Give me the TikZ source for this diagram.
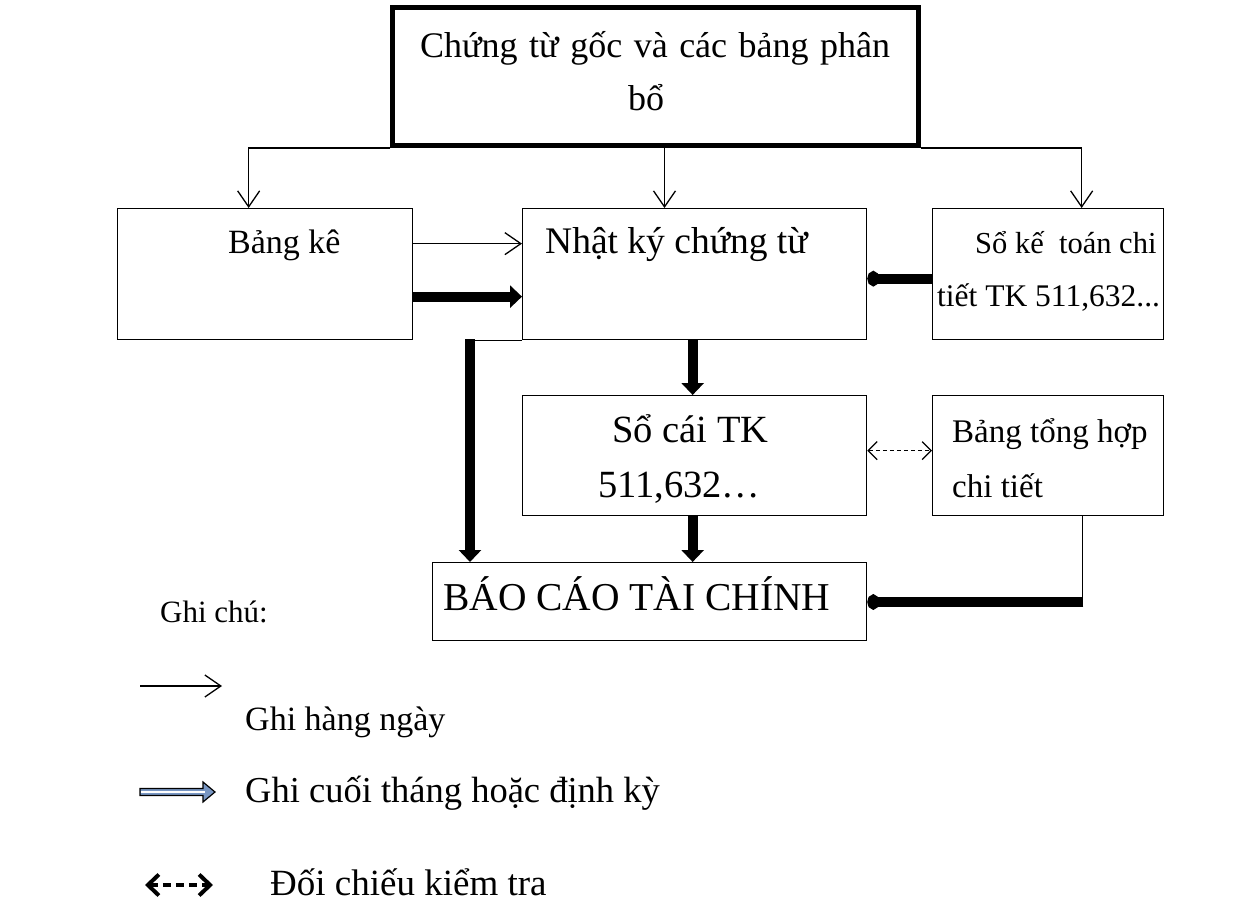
\documentclass[tikz,border=0pt]{standalone}
\usepackage{fontspec}
\setmainfont{Liberation Serif}
\usetikzlibrary{arrows.meta}
\begin{document}
\begin{tikzpicture}[x=1pt,y=-1pt,
  box/.style={draw, line width=1.3pt, inner sep=0pt, anchor=north west},
  txt/.style={font=\fontsize{36}{44}\selectfont, inner sep=0pt, anchor=west, text height=0.72em, text depth=0.22em},
  fs/.style={font=\fontsize{#1}{#1}\selectfont},
  thinarrow/.style={line width=1.3pt, -{Straight Barb[length=16pt,width=22pt,line width=1.3pt]}},
  thickarrow/.style={line width=10pt, -{Triangle[length=12pt,width=22pt]}},
  roundarrow/.style={line width=10pt, -{Circle[length=12pt,width=15pt]}},
  checkarrow/.style={line width=1.2pt, dash pattern=on 4pt off 3pt,
    {Straight Barb[length=9pt,width=18pt,line width=1.2pt]}-{Straight Barb[length=9pt,width=18pt,line width=1.2pt]}},
  thinline/.style={line width=1.3pt}
]
\useasboundingbox (0,0) rectangle (1248,904);

% boxes
\node[box, line width=5pt, minimum width=526pt, minimum height=138pt] (top) at (390,5) {};
\node[box, minimum width=295pt, minimum height=131pt] (bk) at (117,208) {};
\node[box, minimum width=344pt, minimum height=131pt] (nk) at (522,208) {};
\node[box, minimum width=231pt, minimum height=131pt] (skt) at (932,208) {};
\node[box, minimum width=344pt, minimum height=120pt] (sc) at (522,395) {};
\node[box, minimum width=231pt, minimum height=120pt] (bth) at (932,395) {};
\node[box, minimum width=434pt, minimum height=78pt] (bc) at (432,562) {};

% box texts
\node[txt] (t1) at (420,55) {\makebox[470pt][s]{Chứng từ gốc và các bảng phân}};
\node[txt] (t2) at (628,108) {bổ};
\node[txt, fs=34] (t3) at (228,251) {Bảng kê};
\node[txt, fs=37.5] (t4) at (545,251) {Nhật ký chứng từ};
\node[txt, fs=30.5] (t5) at (975,251) {Sổ kế\ \ toán chi};
\node[txt, fs=31.5] (t6) at (937,304) {tiết TK 511,632...};
\node[txt, fs=38.5] (t7) at (612,440) {Sổ cái TK};
\node[txt, fs=38.5] (t8) at (598,495) {511,632…};
\node[txt, fs=33] (t9) at (952,440) {Bảng tổng hợp};
\node[txt, fs=33] (t10) at (952,495) {chi tiết};
\node[txt, fs=39.5] (t11) at (443,608) {BÁO CÁO TÀI CHÍNH};

% daily entries from the source documents
\draw[thinarrow] (top.south west) -| ([xshift=-16.5pt]bk.north);
\draw[thinarrow] ([xshift=9pt]top.south) -- ([xshift=9pt]top.south |- nk.north);
\draw[thinarrow] (top.south east) -| ([xshift=33.5pt]skt.north);
\draw[thinarrow] ([yshift=30.5pt]bk.east) -- ([yshift=30.5pt]nk.west);

% period-end entries
\draw[thickarrow] ([yshift=-22.5pt]bk.east) -- ([yshift=-22.5pt]nk.west);
\draw[roundarrow] ([yshift=-4.5pt]skt.west) -- ([yshift=-4.5pt]nk.east);
\draw[thickarrow] ([xshift=-2pt]nk.south) -- ([xshift=-2pt]sc.north);
\draw[thickarrow] ([xshift=-2pt]sc.south) -- ([xshift=-2pt]sc.south |- bc.north);
\coordinate (kl) at ([xshift=-52pt]nk.south west);
\draw[thinline] (nk.south west) -- (kl);
\draw[thickarrow] ([yshift=1pt]kl) -- (kl |- bc.north);
\coordinate (bend) at ([xshift=34.5pt]bth.south |- 0,602);
\draw[thinline] ([xshift=34.5pt]bth.south) -- (bend);
\draw[roundarrow] ([xshift=0.6pt]bend) -- (bend -| bc.east);

% cross-check
\draw[checkarrow] ([yshift=5pt]sc.east) -- ([yshift=5pt]bth.west);

% legend
\node[txt, fs=31] (note) at (160,620) {Ghi chú:};
\coordinate (l1a) at (140,686);
\coordinate (l1b) at (222,686);
\draw[thinarrow] (l1a) -- (l1b);
\node[txt, fs=34] (n1) at (245,728) {Ghi hàng ngày};

\coordinate (l2a) at (140,792);
\filldraw[draw=black, line width=1.2pt, fill={rgb,255:red,120;green,150;blue,195}]
  (l2a) ++(0,-3.5) -- ++(63,0) -- ++(0,-6.5) -- ++(12,10) -- ++(-12,10) -- ++(0,-6.5) -- ++(-63,0) -- cycle;
\draw[white, line width=1.2pt] ([xshift=1pt]l2a) -- ++(64,0);
\node[txt, fs=36.5] (n2) at (245,800) {Ghi cuối tháng hoặc định kỳ};

\coordinate (l3a) at (145,885);
\coordinate (l3b) at (213,885);
\draw[line width=4pt, dash pattern=on 8pt off 5pt,
  {Straight Barb[length=11pt,width=21pt,line width=4pt]}-{Straight Barb[length=11pt,width=21pt,line width=4pt]}] (l3a) -- (l3b);
\node[txt, fs=37] (n3) at (270,893) {Đối chiếu kiểm tra};
\end{tikzpicture}
\end{document}
